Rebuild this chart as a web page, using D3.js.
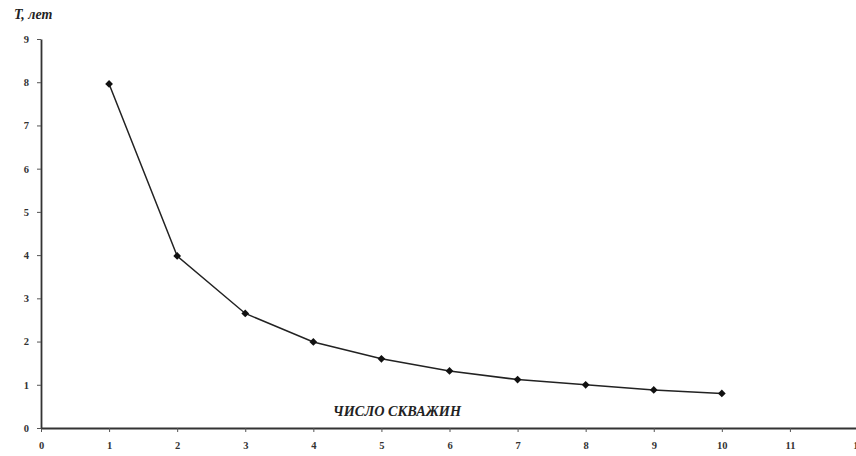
<!DOCTYPE html>
<html><head><meta charset="utf-8">
<script src="https://cdn.jsdelivr.net/npm/d3@7/dist/d3.min.js"></script>
<style>body{margin:0;background:#fff}svg{display:block}</style>
</head><body>
<svg id="c" width="856" height="456"></svg>
<script>
const wells = [1,2,3,4,5,6,7,8,9,10];
const years = [7.96,3.98,2.65,1.99,1.6,1.32,1.12,1.0,0.88,0.8];
const xTicks = [0,1,2,3,4,5,6,7,8,9,10,11,12];
const yTicks = [0,1,2,3,4,5,6,7,8,9];
const yTitle = "T, лет";
const xTitle = "ЧИСЛО СКВАЖИН";

const svg = d3.select("#c");
const x = d3.scaleLinear().domain([0,12]).range([41,858]);
const y = d3.scaleLinear().domain([0,9]).range([428,39]);
const font = "'Liberation Serif','DejaVu Serif',serif";

const xa = svg.append("g").attr("transform","translate(0,428)")
  .call(d3.axisBottom(x).tickValues(xTicks).tickSize(4).tickSizeOuter(0).tickPadding(10));
const ya = svg.append("g").attr("transform","translate(41,0)")
  .call(d3.axisLeft(y).tickValues(yTicks).tickSize(4).tickSizeOuter(0).tickPadding(8));
[xa,ya].forEach(a=>{
  a.select(".domain").attr("stroke","#333").attr("stroke-width",1.8);
  a.selectAll(".tick line").attr("stroke","#555").attr("stroke-width",1);
  a.selectAll(".tick text").attr("font-family",font).attr("font-weight","bold")
   .attr("font-size",10.5).attr("fill","#333");
});

const line = d3.line().x((d,i)=>x(wells[i])).y(d=>y(d));
svg.append("path").datum(years).attr("d",line).attr("fill","none")
  .attr("stroke","#222").attr("stroke-width",1.5);

svg.selectAll(".m").data(years).join("path").attr("class","m")
  .attr("transform",(d,i)=>`translate(${x(wells[i])},${y(d)}) rotate(45)`)
  .attr("d",d3.symbol().type(d3.symbolSquare).size(30)).attr("fill","#111");

svg.append("text").attr("x",14).attr("y",19).text(yTitle)
  .attr("font-family",font).attr("font-weight","bold").attr("font-style","italic")
  .attr("font-size",14).attr("fill","#222");
svg.append("text").attr("x",397).attr("y",416).attr("text-anchor","middle").text(xTitle)
  .attr("font-family",font).attr("font-weight","bold").attr("font-style","italic")
  .attr("font-size",14).attr("fill","#222").attr("textLength",128).attr("lengthAdjust","spacingAndGlyphs");
</script>
</body></html>
